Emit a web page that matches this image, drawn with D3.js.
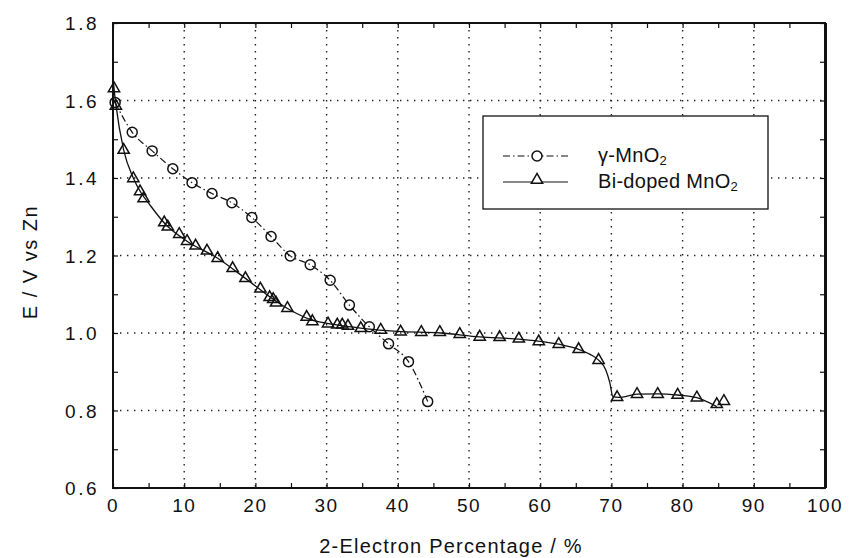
<!DOCTYPE html>
<html><head><meta charset="utf-8">
<script src="https://cdn.jsdelivr.net/npm/d3@7"></script>
<style>body{margin:0;background:#fff}svg{display:block}</style>
</head><body><svg id="c" width="849" height="558"></svg>
<script>
// ---- data ----
const xTicks = [0,10,20,30,40,50,60,70,80,90,100];
const yTicks = [0.6,0.8,1.0,1.2,1.4,1.6,1.8];
const xTitle = "2-Electron Percentage / %";
const yTitle = "E / V vs Zn";
const seriesNames = ["γ-MnO", "Bi-doped MnO"];

// γ-MnO2 (circles, dash-dot)
const gammaX = [0.3,2.7,5.5,8.4,11.1,13.9,16.7,19.5,22.2,24.9,27.7,30.5,33.2,36.0,38.7,41.5,44.2];
const gammaY = [1.595,1.518,1.470,1.424,1.388,1.360,1.336,1.298,1.249,1.199,1.176,1.136,1.072,1.016,0.972,0.926,0.823];

// Bi-doped MnO2 markers (triangles)
const biX = [0.14,0.4,1.5,2.85,3.8,4.3,7.2,7.7,9.3,10.4,11.6,13.2,14.7,16.8,18.6,20.7,22.0,22.5,22.9,24.5,27.2,28.0,30.2,31.5,32.2,33.0,34.8,37.6,40.4,43.3,45.9,48.7,51.5,54.3,57.0,59.8,62.6,65.4,68.2,70.8,73.6,76.5,79.3,82.0,84.8,85.8];
const biY = [1.631,1.586,1.472,1.399,1.365,1.347,1.285,1.274,1.255,1.237,1.225,1.212,1.193,1.167,1.141,1.114,1.092,1.087,1.078,1.064,1.041,1.030,1.024,1.021,1.021,1.018,1.012,1.008,1.003,1.002,1.002,0.997,0.990,0.989,0.985,0.978,0.971,0.958,0.930,0.834,0.842,0.842,0.840,0.833,0.816,0.824];

// Bi-doped MnO2 continuous trace (solid line)
const biLineX = [0,0.15,0.4,1.5,2.85,4.0,5.0,7.4,10.4,14.7,18.6,22.5,25,28,31,35,40,46,51.5,57,62.6,65.4,67,68.2,69.2,69.8,70.2,71,73.6,76.5,79.3,82,84.8];
const biLineY = [1.66,1.63,1.59,1.472,1.40,1.36,1.335,1.28,1.237,1.193,1.141,1.087,1.058,1.033,1.022,1.012,1.004,1.0,0.99,0.984,0.971,0.958,0.945,0.93,0.905,0.87,0.836,0.834,0.842,0.843,0.84,0.833,0.81];

// ---- drawing ----
const svg = d3.select("#c");
const x = d3.scaleLinear().domain([0,100]).range([113,825]);
const y = d3.scaleLinear().domain([0.6,1.8]).range([488,23]);
const font = "'Liberation Sans', Arial, sans-serif";

// grid
const grid = svg.append("g").attr("stroke","#222").attr("stroke-width",1.4).attr("stroke-dasharray","1.4,5.6");
grid.selectAll("line.gx").data(xTicks.slice(1,-1)).join("line")
  .attr("x1",d=>x(d)).attr("x2",d=>x(d)).attr("y1",y(1.8)).attr("y2",y(0.6));
grid.selectAll("line.gy").data(yTicks.slice(1,-1)).join("line")
  .attr("y1",d=>y(d)).attr("y2",d=>y(d)).attr("x1",x(0)).attr("x2",x(100));

// axes with inward minor ticks
const xMinor = d3.range(0,101,5);
const yMinor = d3.range(6,19,1).map(v=>v/10);
svg.append("g").attr("transform",`translate(0,${y(0.6)})`)
  .call(d3.axisBottom(x).tickValues(xMinor).tickSize(-5).tickFormat(""))
  .call(g=>g.select(".domain").remove());
svg.append("g").attr("transform",`translate(0,${y(1.8)})`)
  .call(d3.axisTop(x).tickValues(xMinor).tickSize(-5).tickFormat(""))
  .call(g=>g.select(".domain").remove());
svg.append("g").attr("transform",`translate(${x(0)},0)`)
  .call(d3.axisLeft(y).tickValues(yMinor).tickSize(-5).tickFormat(""))
  .call(g=>g.select(".domain").remove());
svg.append("g").attr("transform",`translate(${x(100)},0)`)
  .call(d3.axisRight(y).tickValues(yMinor).tickSize(-5).tickFormat(""))
  .call(g=>g.select(".domain").remove());
svg.selectAll(".tick line").attr("stroke","#111").attr("stroke-width",1.2);

// frame
svg.append("rect").attr("x",x(0)).attr("y",y(1.8)).attr("width",x(100)-x(0)).attr("height",y(0.6)-y(1.8))
  .attr("fill","none").attr("stroke","#111").attr("stroke-width",2);
svg.append("line").attr("x1",x(100)+0.5).attr("x2",x(100)+0.5).attr("y1",y(1.8)).attr("y2",y(0.6))
  .attr("stroke","#111").attr("stroke-width",3);

// tick labels
svg.append("g").selectAll("text").data(xTicks).join("text")
  .attr("x",d=>x(d)).attr("y",y(0.6)+24).attr("text-anchor","middle")
  .attr("font-family",font).attr("font-size",19).attr("letter-spacing",1.5).attr("fill","#111")
  .text(d=>d);
svg.append("g").selectAll("text").data(yTicks).join("text")
  .attr("x",x(0)-14).attr("y",d=>y(d)+7).attr("text-anchor","end")
  .attr("font-family",font).attr("font-size",19).attr("letter-spacing",2.5).attr("fill","#111")
  .text(d=>d.toFixed(1));

// axis titles
svg.append("text").attr("x",451).attr("y",553).attr("text-anchor","middle")
  .attr("font-family",font).attr("font-size",20).attr("letter-spacing",1.2).attr("fill","#111").text(xTitle);
svg.append("text").attr("transform",`translate(37,262) rotate(-90)`).attr("text-anchor","middle")
  .attr("font-family",font).attr("font-size",20).attr("letter-spacing",1.5).attr("fill","#111").text(yTitle);

// series
const gammaPts = gammaX.map((v,i)=>[v,gammaY[i]]);
const biPts = biX.map((v,i)=>[v,biY[i]]);
const biLine = biLineX.map((v,i)=>[v,biLineY[i]]);
const line = d3.line().x(d=>x(d[0])).y(d=>y(d[1])).curve(d3.curveMonotoneX);

svg.append("path").datum(gammaPts).attr("d",line).attr("fill","none")
  .attr("stroke","#111").attr("stroke-width",1.2).attr("stroke-dasharray","7,3,1.5,3");
svg.append("path").datum(biLine).attr("d",line).attr("fill","none")
  .attr("stroke","#111").attr("stroke-width",1.3);

const tri = d3.symbol().type(d3.symbolTriangle).size(55);
svg.append("g").selectAll("path").data(biPts).join("path")
  .attr("transform",d=>`translate(${x(d[0])},${y(d[1])})`).attr("d",tri)
  .attr("fill","none").attr("stroke","#111").attr("stroke-width",1.5);
svg.append("g").selectAll("circle").data(gammaPts).join("circle")
  .attr("cx",d=>x(d[0])).attr("cy",d=>y(d[1])).attr("r",5)
  .attr("fill","none").attr("stroke","#111").attr("stroke-width",1.5);

// legend
const lg = svg.append("g");
lg.append("rect").attr("x",483).attr("y",116).attr("width",285).attr("height",93)
  .attr("fill","#fff").attr("stroke","#111").attr("stroke-width",1.3);
const rows = [{y:156, dash:"7,3,1.5,3", mk:"c"},{y:182, dash:null, mk:"t"}];
rows.forEach((r,i)=>{
  lg.append("line").attr("x1",503).attr("x2",568).attr("y1",r.y).attr("y2",r.y)
    .attr("stroke","#111").attr("stroke-width",1.2).attr("stroke-dasharray",r.dash);
  if(r.mk==="c") lg.append("circle").attr("cx",537).attr("cy",r.y).attr("r",5).attr("fill","#fff").attr("stroke","#111").attr("stroke-width",1.5);
  else lg.append("path").attr("transform",`translate(537,${r.y-2})`).attr("d",tri).attr("fill","#fff").attr("stroke","#111").attr("stroke-width",1.5);
  const t = lg.append("text").attr("x",598).attr("y",r.y+6).attr("font-family",font).attr("font-size",20).attr("letter-spacing",0.3).attr("fill","#111");
  t.append("tspan").text(seriesNames[i]);
  t.append("tspan").attr("font-size",13).attr("dy",3).text("2");
});
</script></body></html>
